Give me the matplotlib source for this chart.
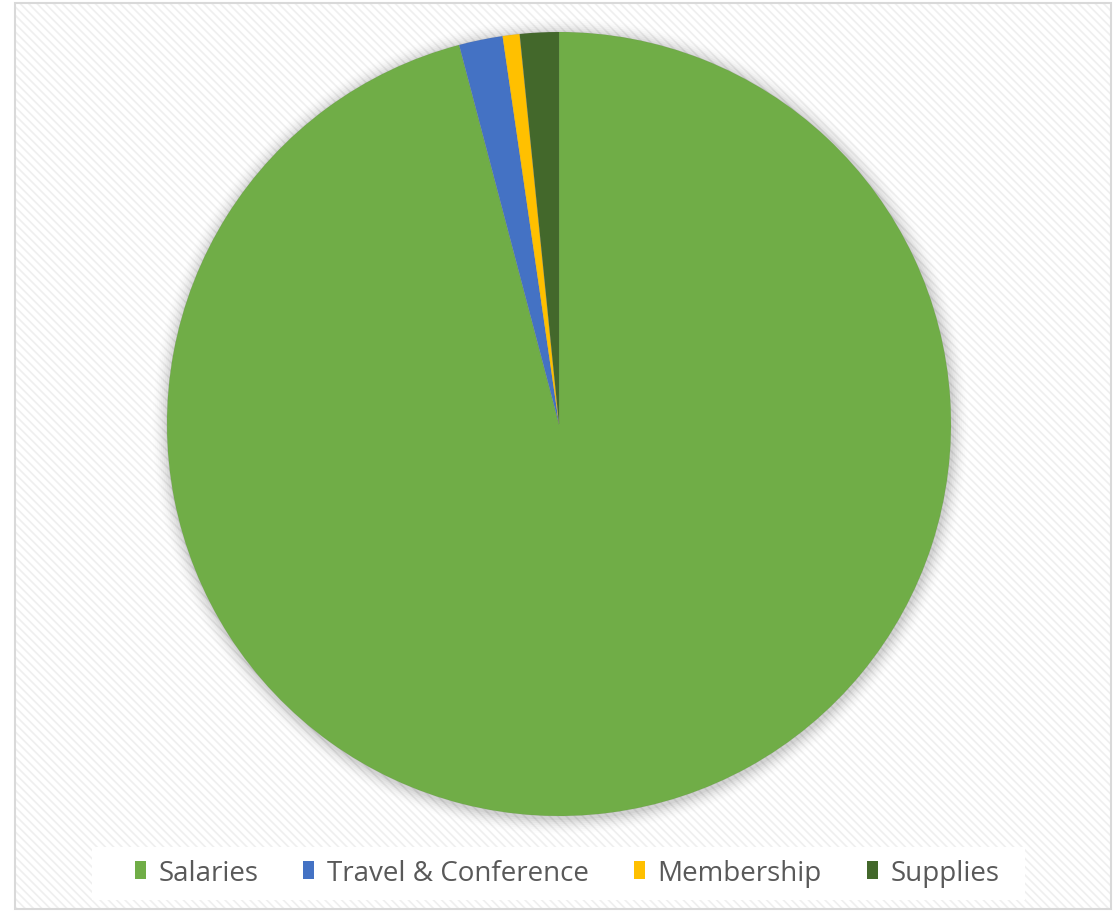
import matplotlib.pyplot as plt
import matplotlib.patches as mpatches
import numpy as np

labels = ["Salaries", "Travel & Conference", "Membership", "Supplies"]
shares = [95.9, 1.8, 0.7, 1.6]
colors = ["#70ad47", "#4472c4", "#ffc000", "#43682b"]

plt.rcParams["font.family"] = ["Open Sans", "DejaVu Sans"]
plt.rcParams["hatch.color"] = "#efefef"
plt.rcParams["hatch.linewidth"] = 1.2

W, H = 1116, 912
fig = plt.figure(figsize=(W / 100, H / 100), dpi=100)

# background panel with light diagonal hatch and thin border
bg = fig.add_axes([0, 0, 1, 1])
bg.set_xlim(0, W)
bg.set_ylim(H, 0)
bg.axis("off")
bg.add_patch(mpatches.Rectangle((15, 4), W - 20, H - 6, facecolor="white",
                                edgecolor="#efefef", hatch="\\\\\\\\", linewidth=0))
bg.add_patch(mpatches.Rectangle((15, 4), W - 20, H - 6, facecolor="none",
                                edgecolor="#d9d9d9", linewidth=1.5))
bg.add_patch(mpatches.Rectangle((92, 848), 933, 53, facecolor="white", edgecolor="none"))

# pie
cx, cy, r = 559, 425, 392
ax = fig.add_axes([(cx - r * 1.05) / W, (H - cy - r * 1.05) / H, 2.1 * r / W, 2.1 * r / H])

# soft shadow
for i, a in enumerate(np.linspace(0.035, 0.008, 8)):
    ax.add_patch(mpatches.Circle((0.003, -0.005), 1.0 + 0.005 * (i + 1),
                                 facecolor="#000000", alpha=a, edgecolor="none", zorder=0))

ax.pie(shares, colors=colors, startangle=90, counterclock=False, radius=1.0,
       wedgeprops=dict(linewidth=0.6, edgecolor="#6a6a6a20"))
ax.set_xlim(-1.05, 1.05)
ax.set_ylim(-1.05, 1.05)
ax.set_aspect("equal")
ax.axis("off")

# legend
handles = [mpatches.Patch(facecolor=c, edgecolor="none") for c in colors]
leg = fig.legend(handles, labels, ncol=4, loc="center", bbox_to_anchor=(0.508, (H - 874) / H),
                 frameon=False, fontsize=20, handlelength=0.4, handleheight=0.62,
                 handletextpad=0.45, columnspacing=1.62, labelcolor="#595959")

fig.savefig("out.png", dpi=100)
